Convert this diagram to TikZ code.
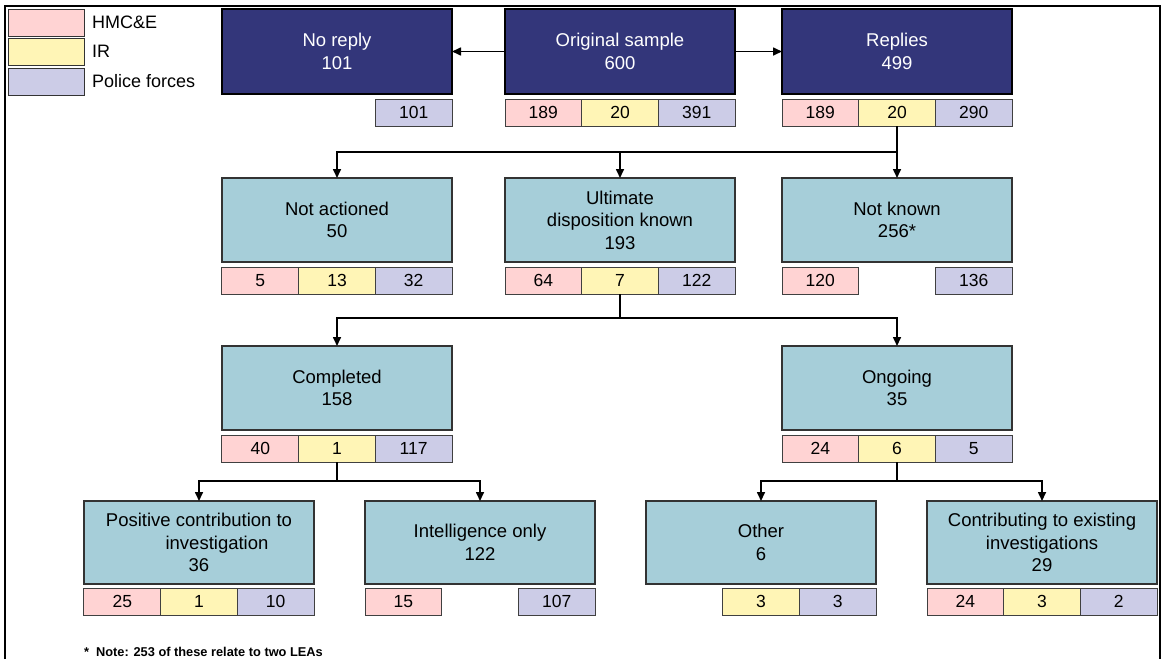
\documentclass[tikz,border=0pt]{standalone}
\usepackage{fontspec}
\setmainfont{Liberation Sans}
\usetikzlibrary{arrows.meta}

\definecolor{navyfill}{RGB}{51,54,122}
\definecolor{boxblue}{RGB}{166,206,217}
\definecolor{hmcpink}{RGB}{255,211,211}
\definecolor{iryellow}{RGB}{255,245,182}
\definecolor{polblue}{RGB}{204,204,231}

\tikzset{
  txt/.style={font=\fontsize{17.5}{22.5}\selectfont},
  boxtxt/.style={font=\fontsize{18.5}{22.5}\selectfont},
  darkbox/.style={boxtxt, draw=black, line width=1.6pt, fill=navyfill, text=white,
    minimum width=230pt, minimum height=85pt, inner sep=0pt, outer sep=0pt, align=center},
  lightbox/.style={boxtxt, draw=black!80, line width=1.2pt, fill=boxblue,
    minimum width=230pt, minimum height=84pt, inner sep=0pt, outer sep=0pt, align=center},
  cell/.style={txt, draw=black!75, line width=1pt, minimum width=76.67pt,
    minimum height=27pt, inner sep=0pt, outer sep=0pt},
  hmc/.style={cell, fill=hmcpink},
  irc/.style={cell, fill=iryellow},
  pol/.style={cell, fill=polblue},
  swatch/.style={draw=black!80, line width=1pt, minimum width=76pt, minimum height=27pt,
    inner sep=0pt, outer sep=0pt},
  legtext/.style={font=\fontsize{18}{22}\selectfont, anchor=west, inner sep=0pt},
  link/.style={draw=black, line width=1.6pt},
  arr/.style={link, -{Triangle[length=9pt,width=8pt]}}
}

\begin{document}
\begin{tikzpicture}[x=1pt,y=-1pt]
\useasboundingbox (0,0) rectangle (1161,659);

% outer frame (open at the bottom)
\draw[line width=2pt] (5,659) -- (5,6) -- (1159.5,6) -- (1159.5,659);

% legend
\node[swatch, fill=hmcpink] (lg1) at (46,22.5) {};
\node[swatch, fill=iryellow] (lg2) at (46,51.5) {};
\node[swatch, fill=polblue] (lg3) at (46,81.5) {};
\node[legtext] (lt1) at (92,22.5) {HMC\&E};
\node[legtext] (lt2) at (92,51.5) {IR};
\node[legtext] (lt3) at (92,81.5) {Police forces};

% ---- row 1
\node[darkbox] (noreply) at (337,51.5) {No reply\\101};
\node[darkbox] (orig) at (620,51.5) {Original sample\\600};
\node[darkbox] (replies) at (897,51.5) {Replies\\499};

\node[pol] (noreply-p) at (413.67,112.5) {101};

\node[hmc] (orig-h) at (543.33,112.5) {189};
\node[irc] (orig-i) at (620,112.5) {20};
\node[pol] (orig-p) at (696.67,112.5) {391};

\node[hmc] (replies-h) at (820.33,112.5) {189};
\node[irc] (replies-i) at (897,112.5) {20};
\node[pol] (replies-p) at (973.67,112.5) {290};

% ---- row 2
\node[lightbox] (notact) at (337,220) {Not actioned\\50};
\node[lightbox] (ultim) at (620,220) {Ultimate\\disposition known\\193};
\node[lightbox] (notknown) at (897,220) {Not known\\256*};

\node[hmc] (notact-h) at (260.33,280.5) {5};
\node[irc] (notact-i) at (337,280.5) {13};
\node[pol] (notact-p) at (413.67,280.5) {32};

\node[hmc] (ultim-h) at (543.33,280.5) {64};
\node[irc] (ultim-i) at (620,280.5) {7};
\node[pol] (ultim-p) at (696.67,280.5) {122};

\node[hmc] (notknown-h) at (820.33,280.5) {120};
\node[pol] (notknown-p) at (973.67,280.5) {136};

% ---- row 3
\node[lightbox] (compl) at (337,388) {Completed\\158};
\node[lightbox] (ongo) at (897,388) {Ongoing\\35};

\node[hmc] (compl-h) at (260.33,448.5) {40};
\node[irc] (compl-i) at (337,448.5) {1};
\node[pol] (compl-p) at (413.67,448.5) {117};

\node[hmc] (ongo-h) at (820.33,448.5) {24};
\node[irc] (ongo-i) at (897,448.5) {6};
\node[pol] (ongo-p) at (973.67,448.5) {5};

% ---- row 4
\node[lightbox, minimum height=83pt] (posit) at (199,542.5)
  {Positive contribution to\\\hspace*{36pt}investigation\\36};
\node[lightbox, minimum height=83pt] (intel) at (480,542.5) {Intelligence only\\122};
\node[lightbox, minimum height=83pt] (other) at (761,542.5) {Other\\6};
\node[lightbox, minimum height=83pt] (contrib) at (1042,542.5)
  {Contributing to existing\\investigations\\29};

\node[hmc] (posit-h) at (122.33,601.5) {25};
\node[irc] (posit-i) at (199,601.5) {1};
\node[pol] (posit-p) at (275.67,601.5) {10};

\node[hmc] (intel-h) at (403.33,601.5) {15};
\node[pol] (intel-p) at (556.67,601.5) {107};

\node[irc] (other-i) at (761,601.5) {3};
\node[pol] (other-p) at (837.67,601.5) {3};

\node[hmc] (contrib-h) at (965.33,601.5) {24};
\node[irc] (contrib-i) at (1042,601.5) {3};
\node[pol] (contrib-p) at (1118.67,601.5) {2};

% ---- connectors
\draw[arr] (orig) -- (noreply);
\draw[arr] (orig) -- (replies);

\coordinate (j1) at (897,152);
\draw[arr] (replies-i.south) -- (notknown.north);
\draw[arr] (j1) -| (notact.north);
\draw[arr] (ultim.north |- j1) -- (ultim.north);

\coordinate (j2) at (620,318);
\draw[link] (ultim-i.south) -- (j2);
\draw[arr] (j2) -| (compl.north);
\draw[arr] (j2) -| (ongo.north);

\coordinate (j3) at (337,481);
\draw[link] (compl-i.south) -- (j3);
\draw[arr] (j3) -| (posit.north);
\draw[arr] (j3) -| (intel.north);

\coordinate (j4) at (897,481);
\draw[link] (ongo-i.south) -- (j4);
\draw[arr] (j4) -| (other.north);
\draw[arr] (j4) -| (contrib.north);

% footnote
\node[anchor=west, inner sep=0pt, font=\bfseries\fontsize{12.8}{15}\selectfont] (note)
  at (84,652) {*\hspace{7pt}Note: 253 of these relate to two LEAs};
\end{tikzpicture}
\end{document}
